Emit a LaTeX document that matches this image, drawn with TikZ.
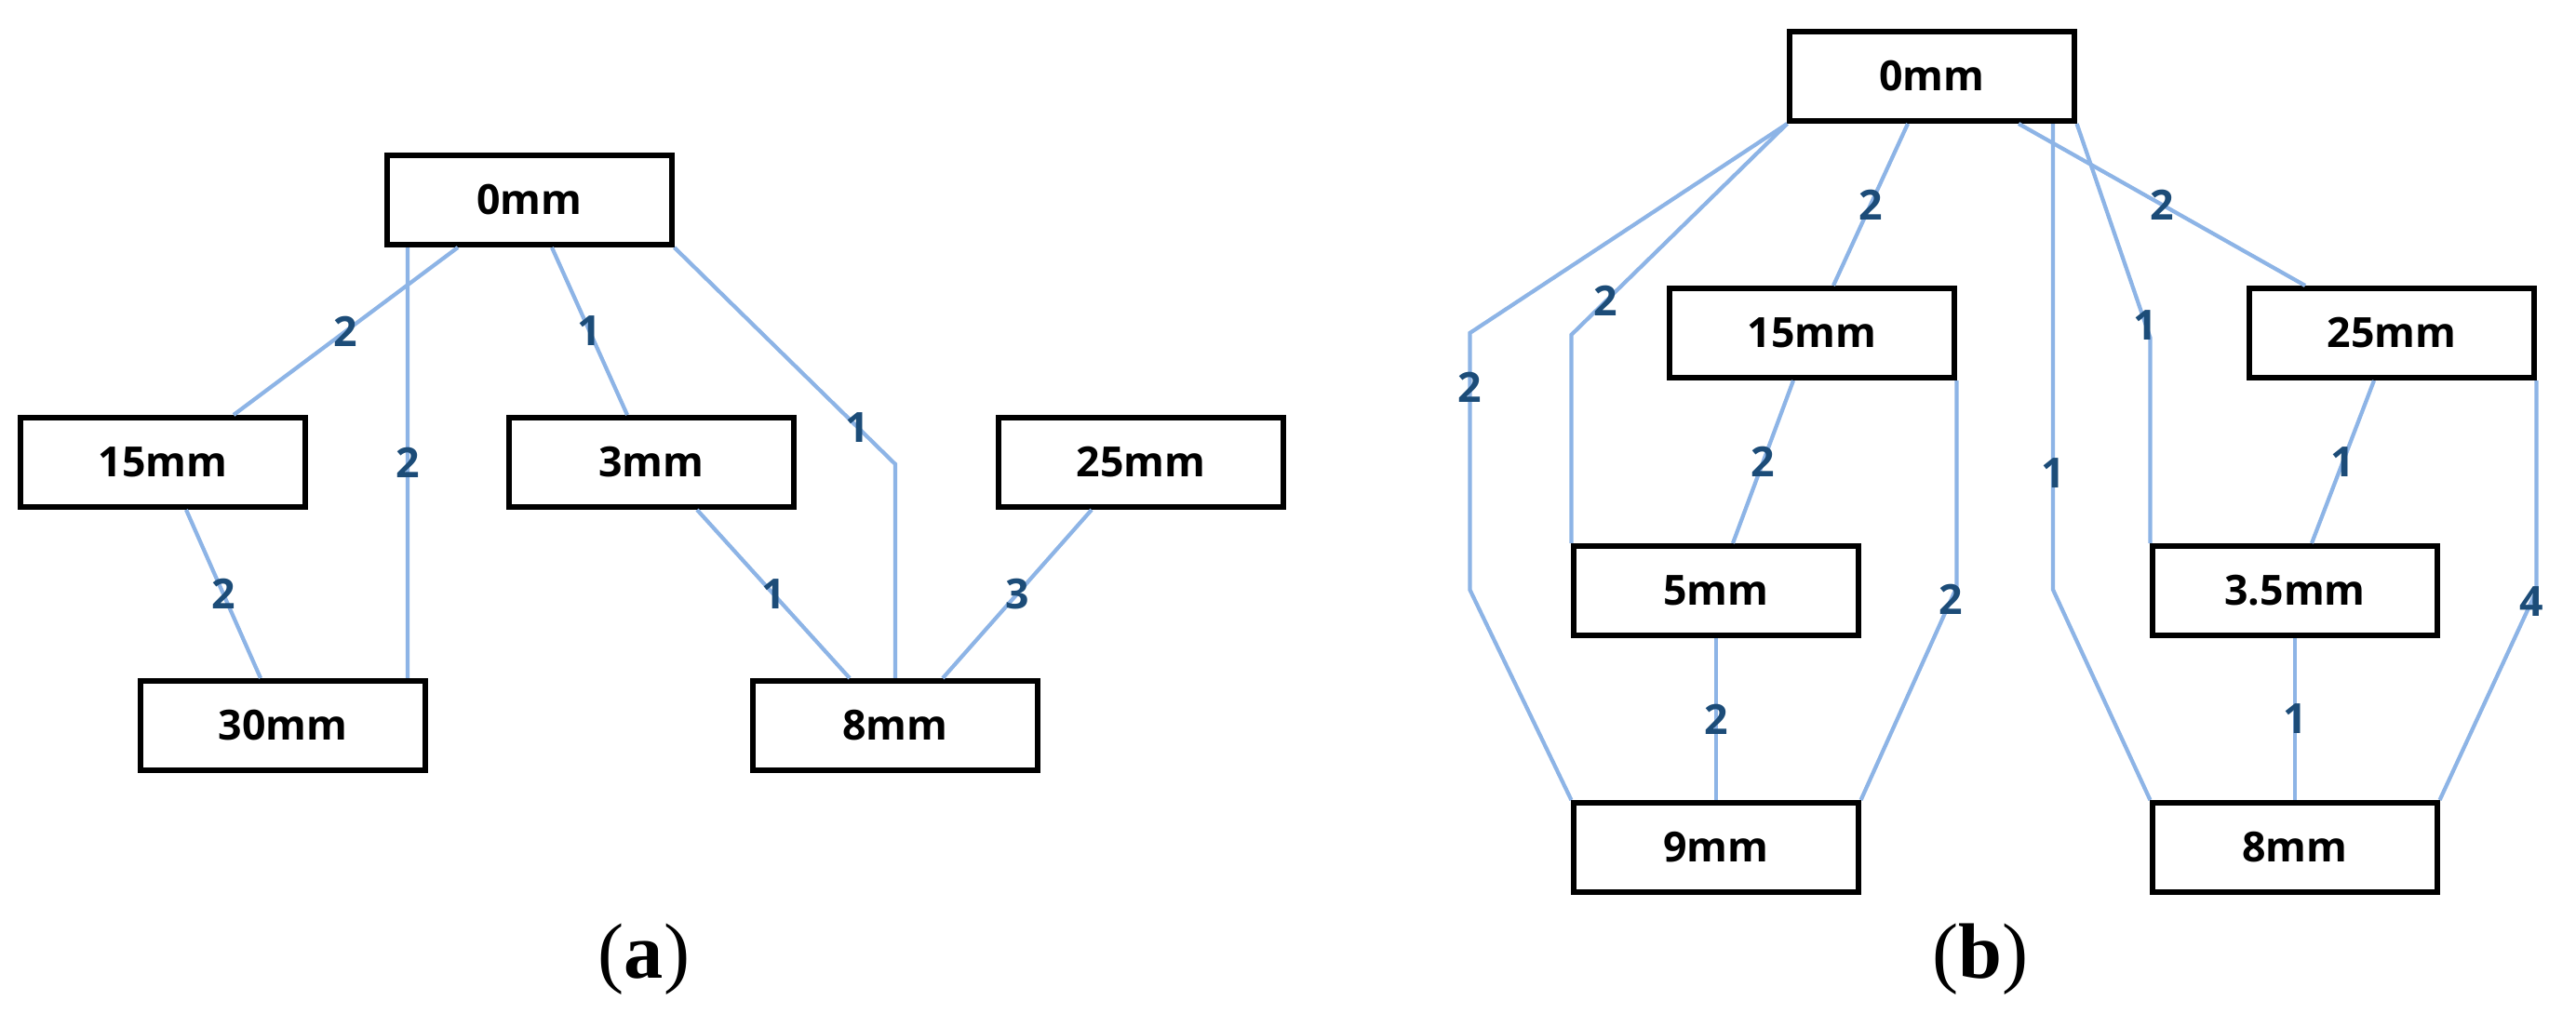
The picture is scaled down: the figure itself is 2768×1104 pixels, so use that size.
\documentclass[tikz,border=0pt]{standalone}
\usepackage{fontspec}
\usetikzlibrary{calc}
\newfontfamily\boxfont{Open Sans}
\newfontfamily\capfont{Liberation Serif}
\definecolor{edgeblue}{RGB}{141,180,230}
\definecolor{lblblue}{RGB}{28,76,120}
\begin{document}
\begin{tikzpicture}[x=0.01cm,y=-0.01cm,
  box/.style={draw=black, line width=1.7pt, fill=white, minimum width=3.05cm, minimum height=0.96cm, inner sep=0pt, font=\boxfont\bfseries\fontsize{12.7}{15}\selectfont},
  conn/.style={draw=edgeblue, line width=1.2pt},
  lbl/.style={text=lblblue, font=\boxfont\bfseries\fontsize{12.7}{15}\selectfont, inner sep=0pt},
  captxt/.style={font=\capfont\fontsize{24}{28}\selectfont, inner sep=0pt}]
\useasboundingbox[fill=white] (0,0) rectangle (2768,1104);
% panel (a)
\node[box] (a0) at (569,215) {0mm};
\node[box] (a15) at (175,497) {15mm};
\node[box] (a3) at (700,497) {3mm};
\node[box] (a25) at (1226,497) {25mm};
\node[box] (a30) at (304,780) {30mm};
\node[box] (a8) at (962,780) {8mm};
\draw[conn] ([xshift=-0.77cm]a0.south) -- node[lbl]{2} ([xshift=0.76cm]a15.north);
\draw[conn] ([xshift=-1.31cm]a0.south) -- node[lbl]{2} ([xshift=1.34cm]a30.north);
\draw[conn] ([xshift=0.24cm]a0.south) -- node[lbl]{1} ([xshift=-0.26cm]a3.north);
\draw[conn] (a0.south east) -- node[lbl,pos=0.83]{1} ($(a8.north)+(0,-230)$) -- (a8.north);
\draw[conn] ([xshift=0.25cm]a15.south) -- node[lbl]{2} ([xshift=-0.24cm]a30.north);
\draw[conn] ([xshift=0.49cm]a3.south) -- node[lbl]{1} ([xshift=-0.49cm]a8.north);
\draw[conn] ([xshift=-0.53cm]a25.south) -- node[lbl]{3} ([xshift=0.51cm]a8.north);
\node[captxt] (capa) at (692,1031) {(\textbf{a})};
% panel (b)
\node[box] (b0) at (2076,82) {0mm};
\node[box] (b15) at (1947,358) {15mm};
\node[box] (b25) at (2570,358) {25mm};
\node[box] (b5) at (1844,635) {5mm};
\node[box] (b35) at (2466,635) {3.5mm};
\node[box] (b9) at (1844,911) {9mm};
\node[box] (b8) at (2466,911) {8mm};
\draw[conn] (b0.south west) -- ($(b9.north west)+(-109,-502)$) -- node[lbl,pos=0.21]{2} ($(b9.north west)+(-109,-226)$) -- (b9.north west);
\draw[conn] (b0.south west) -- node[lbl,pos=0.84]{2} ($(b5.north west)+(0,-224)$) -- (b5.north west);
\draw[conn] ([xshift=-0.26cm]b0.south) -- node[lbl]{2} ([xshift=0.23cm]b15.north);
\draw[conn] ([xshift=0.93cm]b0.south) -- node[lbl]{2} ([xshift=-0.93cm]b25.north);
\draw[conn] ([xshift=1.30cm]b0.south) -- node[lbl,pos=0.75]{1} ++(0,501) -- (b8.north west);
\draw[conn] (b0.south east) -- node[lbl,pos=0.94]{1} ($(b35.north west)+(0,-221)$) -- (b35.north west);
\draw[conn] ([xshift=-0.20cm]b15.south) -- node[lbl]{2} ([xshift=0.18cm]b5.north);
\draw[conn] (b15.south east) -- ++(0,222) -- node[lbl,pos=0.06]{2} (b9.north east);
\draw[conn] (b5.south) -- node[lbl]{2} (b9.north);
\draw[conn] ([xshift=-0.19cm]b25.south) -- node[lbl]{1} ([xshift=0.18cm]b35.north);
\draw[conn] (b25.south east) -- ++(0,226) -- node[lbl,pos=0.05]{4} (b8.north east);
\draw[conn] (b35.south) -- node[lbl]{1} (b8.north);
\node[captxt] (capb) at (2128,1031) {(\textbf{b})};
\end{tikzpicture}
\end{document}
